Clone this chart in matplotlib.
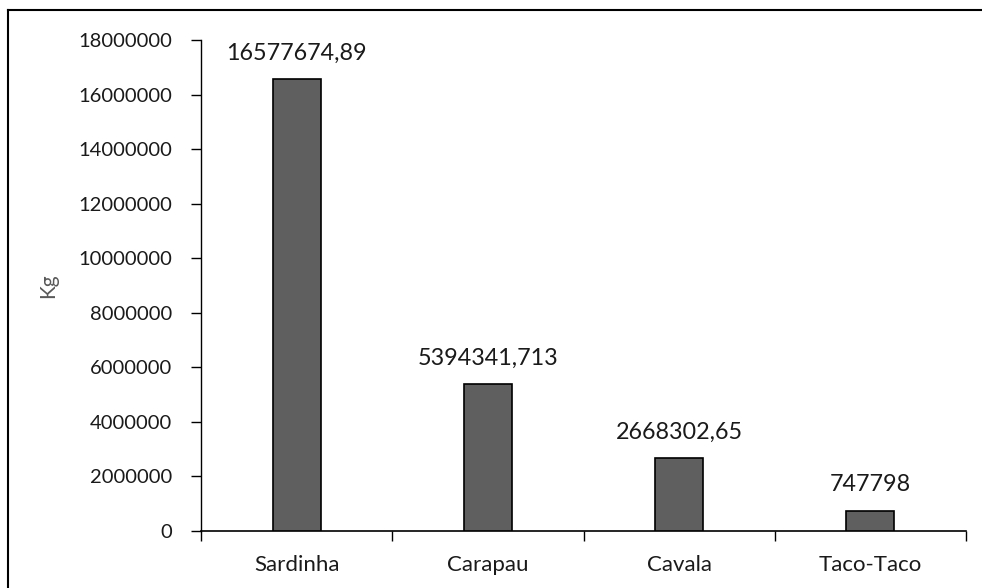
import matplotlib
matplotlib.use("Agg")
import matplotlib.pyplot as plt
from matplotlib.lines import Line2D

categories = ["Sardinha", "Carapau", "Cavala", "Taco-Taco"]
values = [16577674.89, 5394341.713, 2668302.65, 747798]
value_labels = ["16577674,89", "5394341,713", "2668302,65", "747798"]
yticks = [0, 2000000, 4000000, 6000000, 8000000, 10000000, 12000000, 14000000, 16000000, 18000000]

plt.rcParams['font.family'] = ['Lato', 'DejaVu Sans']

W, H = 982, 588
fig = plt.figure(figsize=(W / 100, H / 100), dpi=100)
ax = fig.add_axes([201 / W, 1 - 531 / H, (966 - 201) / W, (531 - 40) / H])

x = list(range(len(categories)))
ax.bar(x, values, width=0.25, color="#5f5f5f", edgecolor="black", linewidth=1.2, zorder=3)

ax.set_xlim(-0.5, len(categories) - 0.5)
ax.set_ylim(0, 18000000)
ax.set_yticks(yticks)
ax.set_yticklabels([str(v) for v in yticks], fontsize=14.5, color="#1a1a1a")
ax.set_xticks(x)
ax.set_xticklabels(categories, fontsize=16, color="#1a1a1a")
ax.tick_params(axis="x", length=0, pad=17)
ax.tick_params(axis="y", length=7, width=1, pad=14, direction="out")
# category boundary ticks
ax.set_xticks([i - 0.5 for i in range(len(categories) + 1)], minor=True)
ax.tick_params(axis="x", which="minor", length=7, width=1, direction="out")

for s in ["top", "right"]:
    ax.spines[s].set_visible(False)
ax.spines["left"].set_linewidth(1)
ax.spines["bottom"].set_linewidth(1.2)

ax.set_ylabel("Kg", fontsize=15, color="#595959", labelpad=14)

for xi, v, lab in zip(x, values, value_labels):
    ax.annotate(lab, (xi, v), xytext=(0, 14), textcoords="offset points",
                ha="center", va="baseline", fontsize=16.8, color="#1a1a1a")

# chart border (top & left visible)
fig.add_artist(Line2D([8 / W, 8 / W], [0, 1 - 10 / H], transform=fig.transFigure, color="black", lw=1.5))
fig.add_artist(Line2D([8 / W, 1], [1 - 10 / H, 1 - 10 / H], transform=fig.transFigure, color="black", lw=1.5))

fig.savefig("out.png", dpi=100)
